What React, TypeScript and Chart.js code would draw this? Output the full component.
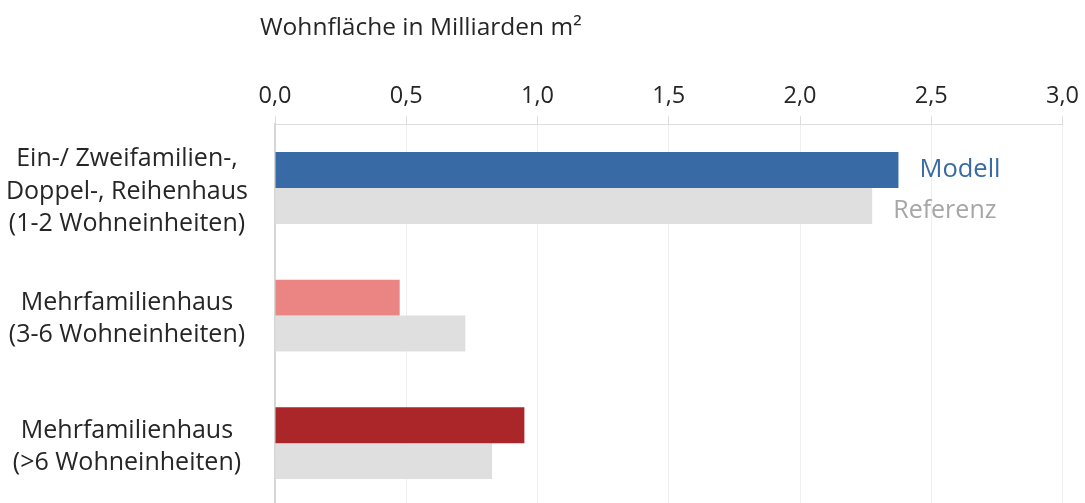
import React, { useEffect, useRef } from "react";
import { Chart, registerables } from "chart.js";

Chart.register(...registerables);

const categories: string[][] = [
  ["Ein-/ Zweifamilien-,", "Doppel-, Reihenhaus", "(1-2 Wohneinheiten)"],
  ["Mehrfamilienhaus", "(3-6 Wohneinheiten)"],
  ["Mehrfamilienhaus", "(>6 Wohneinheiten)"],
];
const modellValues = [2.375, 0.475, 0.95];
const referenzValues = [2.275, 0.725, 0.827];
const modellColors = ["#386BA5", "#EB8584", "#AA2628"];
const referenzColor = "#DFDFDF";
const seriesNames = ["Modell", "Referenz"];
const axisTitle = "Wohnfläche in Milliarden m²";
const xMin = 0;
const xMax = 3;
const xStep = 0.5;

const FONT = "'Open Sans', 'Noto Sans', sans-serif";

const labelPlugin = {
  id: "labelPlugin",
  afterDraw(chart: any) {
    const ctx = chart.ctx;
    const area = chart.chartArea;
    ctx.save();
    ctx.font = `24.5px ${FONT}`;
    ctx.fillStyle = "#262626";
    ctx.textAlign = "left";
    ctx.textBaseline = "middle";
    ctx.fillText(axisTitle, area.left - 15, 28);

    const b0 = chart.getDatasetMeta(0).data[0];
    const b1 = chart.getDatasetMeta(1).data[0];
    ctx.font = `25.5px ${FONT}`;
    ctx.fillStyle = "#386BA5";
    ctx.fillText(seriesNames[0], b0.x + 21, b0.y);
    ctx.fillStyle = "#A6A6A6";
    ctx.font = `25px ${FONT}`;
    ctx.fillText(seriesNames[1], b1.x + 21, b1.y + 5);
    ctx.restore();
  },
};

export default function App() {
  const ref = useRef<HTMLCanvasElement | null>(null);
  useEffect(() => {
    document.body.style.margin = "0";
    const chart = new Chart(ref.current as HTMLCanvasElement, {
      type: "bar",
      data: {
        labels: categories as any,
        datasets: [
          {
            label: seriesNames[0],
            data: modellValues,
            backgroundColor: modellColors,
            barPercentage: 1,
            categoryPercentage: 0.5625,
          },
          {
            label: seriesNames[1],
            data: referenzValues,
            backgroundColor: referenzColor,
            barPercentage: 1,
            categoryPercentage: 0.5625,
          },
        ],
      },
      options: {
        indexAxis: "y",
        animation: false,
        responsive: false,
        layout: { padding: { top: 76, right: 20, left: 0, bottom: 3 } },
        plugins: {
          legend: { display: false },
          tooltip: { enabled: false },
        },
        scales: {
          x: {
            position: "top",
            min: xMin,
            max: xMax,
            ticks: {
              stepSize: xStep,
              color: "#262626",
              font: { family: FONT, size: 23.5 },
              padding: 6,
              callback: (v: any) => Number(v).toFixed(1).replace(".", ","),
            },
            grid: {
              color: "#EEEEEE",
              tickColor: "#DDDDDD",
              tickLength: 8,
              lineWidth: 1,
            },
            border: { display: true, color: "#DDDDDD" },
          },
          y: {
            afterFit: (scale: any) => {
              scale.width = 275;
              scale.paddingTop = 0;
              scale.paddingBottom = 0;
            },
            ticks: {
              color: "#262626",
              font: { family: FONT, size: 25, lineHeight: 1.3 },
              crossAlign: "center",
              padding: 27,
              labelOffset: 3.5,
            },
            grid: { display: false, drawTicks: false },
            border: { display: true, color: "#D6D6D6", width: 2 },
          },
        },
      },
      plugins: [labelPlugin],
    });
    return () => chart.destroy();
  }, []);
  return (
    <div style={{ width: 1085, height: 510 }}>
      <canvas ref={ref} width={1085} height={510} />
    </div>
  );
}
